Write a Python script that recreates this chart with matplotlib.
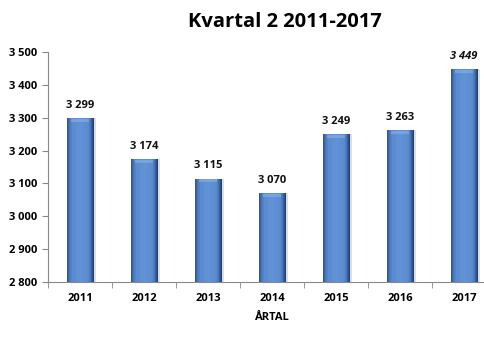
import matplotlib
matplotlib.use("Agg")
import matplotlib.pyplot as plt
import numpy as np
from matplotlib.colors import LinearSegmentedColormap

years = ["2011", "2012", "2013", "2014", "2015", "2016", "2017"]
values = [3299, 3174, 3115, 3070, 3249, 3263, 3449]
labels = ["3 299", "3 174", "3 115", "3 070", "3 249", "3 263", "3 449"]
yticks = [2800, 2900, 3000, 3100, 3200, 3300, 3400, 3500]
ytick_labels = ["2 800", "2 900", "3 000", "3 100", "3 200", "3 300", "3 400", "3 500"]

plt.rcParams['font.family'] = ['Open Sans', 'DejaVu Sans']

fig = plt.figure(figsize=(4.85, 3.37), dpi=100)
W, H = 485, 337
ax = fig.add_axes([48 / W, 1 - 282 / H, (496 - 48) / W, (282 - 52) / H])

x = np.arange(len(years))
bw = 0.41
heights = [v - 2800 for v in values]
bars = ax.bar(x, heights, bw, bottom=2800, color='#5B8BCF',
              edgecolor='none', zorder=3)

# shadow
ax.bar(x + 0.05, heights, bw, bottom=2800, color='#C8C8C8',
       alpha=0.6, edgecolor='none', zorder=2)

cmap = LinearSegmentedColormap.from_list(
    'g', [(0.0, '#2A4E86'), (0.1, '#4A7AC0'), (0.2, '#5B8BCF'), (0.5, '#6194D6'),
          (0.8, '#5B8BCF'), (0.9, '#3E6AA8'), (1.0, '#1C355C')])
grad = np.linspace(0, 1, 256).reshape(1, -1)
for b in bars:
    x0, y0 = b.get_x(), b.get_y()
    w, h = b.get_width(), b.get_height()
    im = ax.imshow(grad, cmap=cmap, aspect='auto', extent=[x0, x0 + w, y0, y0 + h],
                   zorder=4, interpolation='bicubic')
    im.set_clip_path(b)
    ax.fill_between([x0 + w * 0.15, x0 + w * 0.85], y0 + h - 12, y0 + h - 3,
                    color='#8DB4E8', alpha=0.55, zorder=5, linewidth=0)

for i, (v, lab) in enumerate(zip(values, labels)):
    ax.text(x[i], v + 22, lab, ha='center', va='bottom', fontsize=8,
            fontweight='bold', fontstyle='italic' if i == len(values) - 1 else 'normal',
            color='#111111', zorder=6)

ax.set_xlim(-0.5, len(years) - 0.5)
ax.set_ylim(2800, 3500)
ax.set_yticks(yticks)
ax.set_yticklabels(ytick_labels, fontsize=8, fontweight='bold')
ax.set_xticks(x)
ax.set_xticklabels(years, fontsize=8, fontweight='bold')
ax.set_xticks(np.arange(-0.5, len(years), 1), minor=True)
ax.tick_params(axis='x', which='major', length=0, pad=8)
ax.tick_params(axis='x', which='minor', length=4, color='#888888', direction='out')
ax.tick_params(axis='y', length=4, color='#888888', direction='out', pad=4)

for s in ['top', 'right']:
    ax.spines[s].set_visible(False)
for s in ['left', 'bottom']:
    ax.spines[s].set_color('#888888')
    ax.spines[s].set_linewidth(0.8)

ax.set_xlabel('ÅRTAL', fontsize=8, fontweight='bold', labelpad=6)
fig.text(285 / W, 1 - 22 / H, 'Kvartal 2 2011-2017', ha='center', va='center',
         fontsize=14.5, fontweight='bold')

fig.savefig('out.png', dpi=100)
